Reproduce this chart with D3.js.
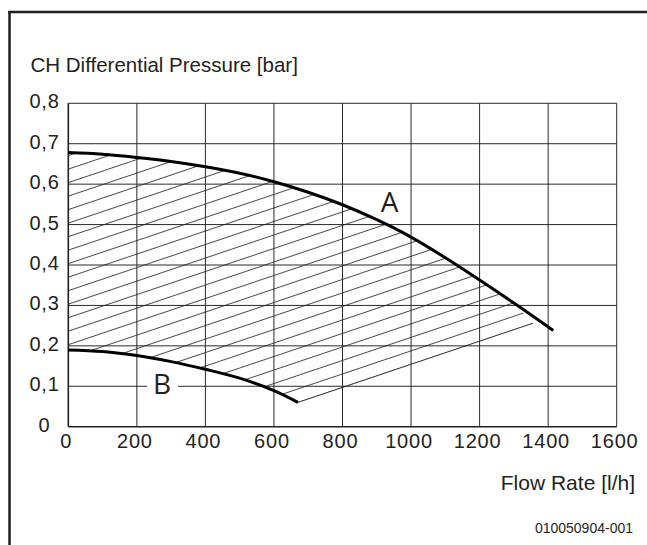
<!DOCTYPE html>
<html>
<head>
<meta charset="utf-8">
<script src="https://cdn.jsdelivr.net/npm/d3@7"></script>
<style>
  html, body { margin: 0; padding: 0; background: #fff; }
  svg { display: block; }
  text { font-family: "Liberation Sans", Arial, Helvetica, sans-serif; fill: #231f20; }
</style>
</head>
<body>
<svg id="chart" width="647" height="545"></svg>
<script>
// Pump curves: available differential pressure [bar] against flow rate [l/h]
const curveA = [
  [0, 0.678], [100, 0.674], [200, 0.666], [300, 0.656], [400, 0.643],
  [500, 0.627], [600, 0.606], [700, 0.580], [800, 0.549], [900, 0.512],
  [1000, 0.469], [1100, 0.418], [1200, 0.363], [1300, 0.306], [1415, 0.238]
];
const curveB = [
  [0, 0.190], [100, 0.186], [200, 0.176], [300, 0.161], [400, 0.142],
  [500, 0.120], [600, 0.089], [670, 0.060]
];
// Upper-right corner of the hatched operating range, just under curve A
const hatchCorner = [1356, 0.256];

const flowTicks = [0, 200, 400, 600, 800, 1000, 1200, 1400, 1600];
const flowTickLabels = ["0", "200", "400", "600", "800", "1000", "1200", "1400", "1600"];
const pressureTicks = [0, 0.1, 0.2, 0.3, 0.4, 0.5, 0.6, 0.7, 0.8];
const pressureTickLabels = ["0", "0,1", "0,2", "0,3", "0,4", "0,5", "0,6", "0,7", "0,8"];

const yTitle = "CH Differential Pressure [bar]";
const xTitle = "Flow Rate [l/h]";
const docCode = "010050904-001";

const svg = d3.select("#chart");
const ink = "#231f20";

const x = d3.scaleLinear().domain([0, 1600]).range([68.3, 616.7]);
const y = d3.scaleLinear().domain([0, 0.8]).range([426.7, 103.3]);

// Page frame (left and top rules)
svg.append("line").attr("x1", 9.5).attr("x2", 9.5).attr("y1", 11).attr("y2", 545)
  .attr("stroke", ink).attr("stroke-width", 2.5);
svg.append("line").attr("x1", 8.25).attr("x2", 647).attr("y1", 12).attr("y2", 12)
  .attr("stroke", ink).attr("stroke-width", 2.5);

// Grid
const grid = svg.append("g").attr("stroke", "#2a2a2a").attr("stroke-width", 1).attr("fill", "none");
grid.selectAll("line.v").data(flowTicks.slice(1)).join("line")
  .attr("class", "v")
  .attr("x1", d => x(d)).attr("x2", d => x(d))
  .attr("y1", y(0)).attr("y2", y(0.8));
grid.selectAll("line.h").data(pressureTicks.slice(1)).join("line")
  .attr("class", "h")
  .attr("x1", x(0)).attr("x2", x(1600))
  .attr("y1", d => y(d)).attr("y2", d => y(d));

// Axis lines
svg.append("line").attr("x1", x(0)).attr("x2", x(1600)).attr("y1", y(0)).attr("y2", y(0))
  .attr("stroke", ink).attr("stroke-width", 1.6);
svg.append("line").attr("x1", x(0)).attr("x2", x(0)).attr("y1", y(0)).attr("y2", y(0.8))
  .attr("stroke", ink).attr("stroke-width", 1.6);

// Hatched operating range between curves A and B
const defs = svg.append("defs");
const spacing = 12.8;
const angle = -18.6;
const bEnd = curveB[curveB.length - 1];
const pattern = defs.append("pattern")
  .attr("id", "hatch")
  .attr("patternUnits", "userSpaceOnUse")
  .attr("width", 40).attr("height", spacing)
  .attr("patternTransform",
    `translate(${x(bEnd[0])},${y(bEnd[1])}) rotate(${angle}) translate(0,${-spacing / 2})`);
pattern.append("line")
  .attr("x1", -1).attr("x2", 41).attr("y1", spacing / 2).attr("y2", spacing / 2)
  .attr("stroke", ink).attr("stroke-width", 0.8);

const smooth = d3.curveCatmullRom.alpha(0.5);
const lineGen = d3.line().x(d => x(d[0])).y(d => y(d[1])).curve(smooth);
const upper = curveA.filter(d => d[0] <= 1300);
const regionPath = lineGen(upper)
  + `L${x(hatchCorner[0])},${y(hatchCorner[1])}`
  + `L${x(bEnd[0])},${y(bEnd[1])}`
  + `L${x(bEnd[0])},${y(0) + 5}`
  + `L${x(0)},${y(0) + 5}Z`;
const belowB = d3.area().x(d => x(d[0])).y0(y(0) + 5).y1(d => y(d[1])).curve(smooth);

const mask = defs.append("mask").attr("id", "rangeMask")
  .attr("maskUnits", "userSpaceOnUse")
  .attr("x", 0).attr("y", 0).attr("width", 647).attr("height", 545);
mask.append("path").attr("d", regionPath).attr("fill", "#fff");
mask.append("path").attr("d", belowB(curveB)).attr("fill", "#000").attr("stroke", "#000").attr("stroke-width", 1.5);

svg.append("rect")
  .attr("x", x(0)).attr("y", y(0.8)).attr("width", x(1600) - x(0)).attr("height", y(0) - y(0.8))
  .attr("fill", "url(#hatch)").attr("mask", "url(#rangeMask)");
svg.append("line")
  .attr("x1", x(bEnd[0])).attr("y1", y(bEnd[1]))
  .attr("x2", x(hatchCorner[0])).attr("y2", y(hatchCorner[1]))
  .attr("stroke", ink).attr("stroke-width", 0.8);

// Label B sits in a white gap of the 0.1 bar grid line
svg.append("rect").attr("x", 147).attr("y", y(0.1) - 14).attr("width", 31).attr("height", 28).attr("fill", "#fff");

// Pump curves
svg.append("path").attr("d", lineGen(curveA)).attr("fill", "none")
  .attr("stroke", "#000").attr("stroke-width", 3).attr("stroke-linecap", "butt");
svg.append("path").attr("d", lineGen(curveB)).attr("fill", "none")
  .attr("stroke", "#000").attr("stroke-width", 3).attr("stroke-linecap", "butt");

svg.append("text").text("A").attr("x", 389.5).attr("y", 212)
  .attr("text-anchor", "middle").style("font-family", "'Open Sans', 'Noto Sans', sans-serif")
  .style("font-size", "28px");
svg.append("text").text("B").attr("x", 162).attr("y", 394)
  .attr("text-anchor", "middle").style("font-family", "'Open Sans', 'Noto Sans', sans-serif")
  .style("font-size", "28px");

// Tick labels
svg.append("g").selectAll("text").data(pressureTicks).join("text")
  .attr("x", 44.5).attr("y", d => y(d) + 5)
  .attr("text-anchor", "middle")
  .style("font-size", "20px").style("letter-spacing", "0.8px")
  .text((d, i) => pressureTickLabels[i]);
svg.append("g").selectAll("text").data(flowTicks).join("text")
  .attr("x", d => x(d) - 2).attr("y", 448)
  .attr("text-anchor", "middle")
  .style("font-size", "20px").style("letter-spacing", "0.8px")
  .text((d, i) => flowTickLabels[i]);

// Titles
svg.append("text").text(yTitle).attr("x", 30.5).attr("y", 72).style("font-size", "20.5px");
svg.append("text").text(xTitle).attr("x", 635).attr("y", 490)
  .attr("text-anchor", "end").style("font-size", "21px");
svg.append("text").text(docCode).attr("x", 633).attr("y", 533)
  .attr("text-anchor", "end").style("font-size", "14px");
</script>
</body>
</html>
